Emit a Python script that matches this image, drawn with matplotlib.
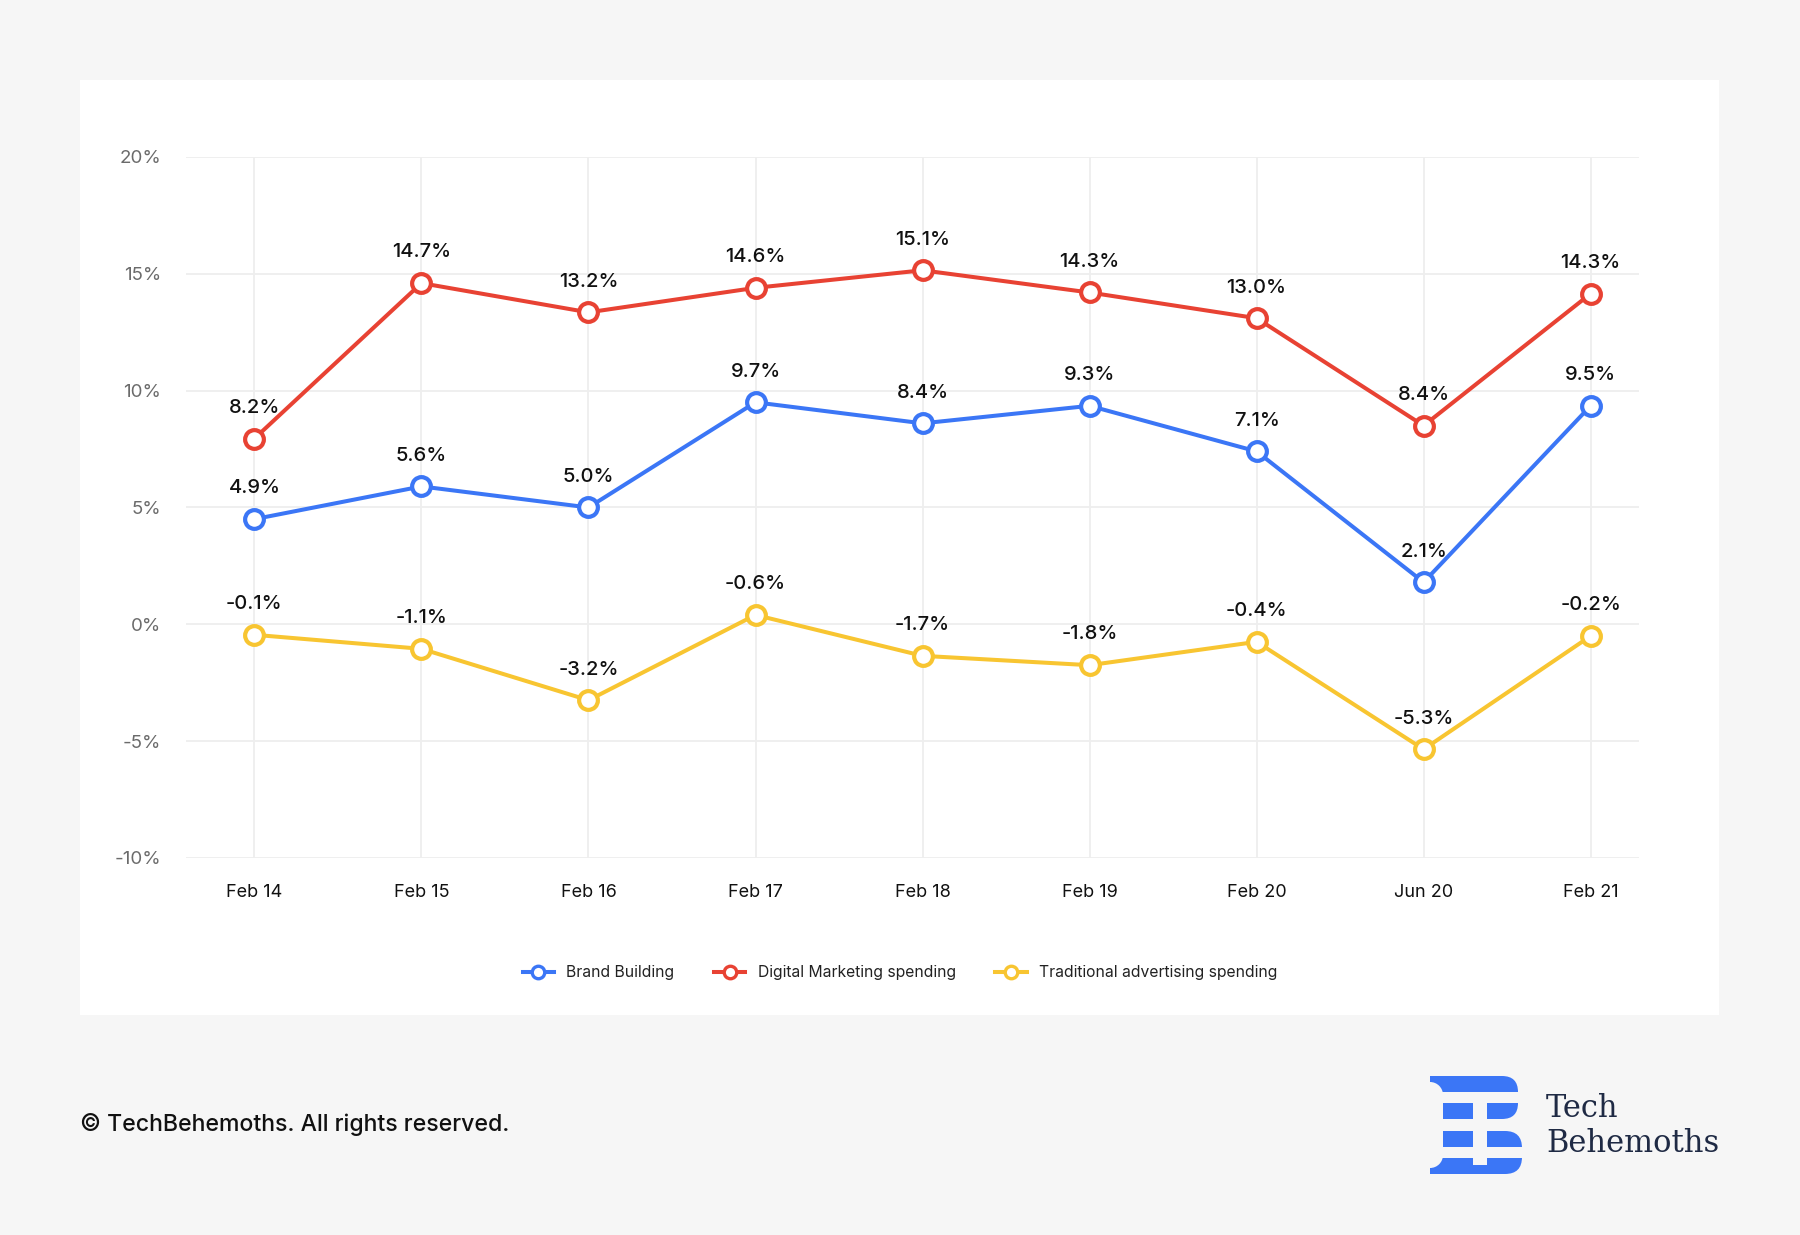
import matplotlib
matplotlib.use("Agg")
import matplotlib.pyplot as plt
from matplotlib.patches import Rectangle, FancyBboxPatch, Circle
from matplotlib.lines import Line2D

plt.rcParams["font.family"] = ["Inter", "DejaVu Sans"]

categories = ["Feb 14", "Feb 15", "Feb 16", "Feb 17", "Feb 18", "Feb 19", "Feb 20", "Jun 20", "Feb 21"]

# plotted positions and the printed labels
brand_values = [4.5, 5.9, 5.0, 9.5, 8.6, 9.35, 7.4, 1.8, 9.35]
brand_labels = ["4.9%", "5.6%", "5.0%", "9.7%", "8.4%", "9.3%", "7.1%", "2.1%", "9.5%"]

digital_values = [7.95, 14.6, 13.35, 14.4, 15.15, 14.2, 13.1, 8.5, 14.15]
digital_labels = ["8.2%", "14.7%", "13.2%", "14.6%", "15.1%", "14.3%", "13.0%", "8.4%", "14.3%"]

traditional_values = [-0.45, -1.05, -3.25, 0.4, -1.35, -1.75, -0.75, -5.35, -0.5]
traditional_labels = ["-0.1%", "-1.1%", "-3.2%", "-0.6%", "-1.7%", "-1.8%", "-0.4%", "-5.3%", "-0.2%"]

series_names = ["Brand Building", "Digital Marketing spending", "Traditional advertising spending"]
yticks = [-10, -5, 0, 5, 10, 15, 20]

BLUE = "#3b76f6"
RED = "#e84233"
YELLOW = "#f8c531"
BG = "#f6f6f6"


def pixel_axes(fig, z):
    a = fig.add_axes([0, 0, 1, 1], zorder=z)
    a.set_xlim(0, 1800)
    a.set_ylim(1235, 0)
    a.axis("off")
    return a


def draw_logo(a):
    # two rounded lobes of the "B", then cut the gaps out with background colour
    a.add_patch(FancyBboxPatch((1430, 1076), 88, 43, boxstyle="round,pad=0,rounding_size=16",
                               facecolor=BLUE, edgecolor="none"))
    a.add_patch(FancyBboxPatch((1430, 1131), 92, 43, boxstyle="round,pad=0,rounding_size=17",
                               facecolor=BLUE, edgecolor="none"))
    a.add_patch(Rectangle((1430, 1076), 30, 43, facecolor=BLUE, edgecolor="none"))
    a.add_patch(Rectangle((1430, 1131), 30, 43, facecolor=BLUE, edgecolor="none"))

    cuts = [
        (1420, 1092, 120, 11),   # gap under top bar
        (1420, 1147, 120, 11),   # gap above bottom bar
        (1420, 1092, 23, 66),    # left indent of middle bars
        (1473, 1092, 14, 73),    # vertical slot + notch
    ]
    for x, y, w, h in cuts:
        a.add_patch(Rectangle((x, y), w, h, facecolor=BG, edgecolor="none"))
    a.add_patch(Circle((1430, 1095), 13, facecolor=BG, edgecolor="none"))
    a.add_patch(Circle((1430, 1155), 13, facecolor=BG, edgecolor="none"))


def draw_footer(fig):
    top = pixel_axes(fig, 5)
    top.text(80, 1125, "© TechBehemoths. All rights reserved.", fontsize=16.6,
             fontweight="medium", color="#111111", va="center", ha="left")
    draw_logo(top)
    top.text(1546, 1117, "Tech", fontsize=22, family="DejaVu Serif",
             color="#1f2a44", va="baseline", ha="left")
    top.text(1546, 1152, "Behemoths", fontsize=22, family="DejaVu Serif",
             color="#1f2a44", va="baseline", ha="left")


def plot_chart():
    fig = plt.figure(figsize=(18, 12.35), dpi=100, facecolor=BG)
    back = pixel_axes(fig, -1)
    back.add_patch(Rectangle((80, 80), 1639, 935, facecolor="white", edgecolor="none"))

    ax = fig.add_axes([0.1033, 0.3053, 0.8073, 0.5676])
    ax.set_facecolor("none")

    x = list(range(len(categories)))
    series = [
        (brand_values, brand_labels, BLUE),
        (digital_values, digital_labels, RED),
        (traditional_values, traditional_labels, YELLOW),
    ]
    for (vals, labels, color), name in zip(series, series_names):
        ax.plot(x, vals, color=color, linewidth=2.9, marker="o", markersize=13.5,
                markerfacecolor="white", markeredgecolor=color, markeredgewidth=3,
                label=name, zorder=3)
        for i, (v, lab) in enumerate(zip(vals, labels)):
            ax.annotate(lab, (i, v), xytext=(0, 18.5), textcoords="offset points",
                        ha="center", va="baseline", fontsize=14.5, color="#111111",
                        fontweight="medium", zorder=4)

    ax.set_xlim(-0.41, 8.29)
    ax.set_ylim(-10, 20)
    ax.set_xticks(x)
    ax.set_xticklabels(categories, fontsize=13, color="#111111")
    ax.set_yticks(yticks)
    ax.set_yticklabels([f"{t}%" for t in yticks], fontsize=13.5, color="#6b6b6b")
    ax.tick_params(axis="both", length=0)
    ax.tick_params(axis="x", pad=19)
    ax.tick_params(axis="y", pad=18)

    ax.grid(True, color="#eeeeee", linewidth=1.3, zorder=0)
    for s in ax.spines.values():
        s.set_visible(False)

    handles = [Line2D([0], [0], color=c, linewidth=2.9, marker="o", markersize=9,
                      markerfacecolor="white", markeredgecolor=c, markeredgewidth=2.4)
               for c in (BLUE, RED, YELLOW)]
    fig.legend(handles, series_names, loc="center", bbox_to_anchor=(0.5, 1 - 973 / 1235),
               ncol=3, frameon=False, fontsize=11.3, handlelength=2.0, columnspacing=2.5,
               handletextpad=0.8, labelcolor="#222222")

    draw_footer(fig)
    fig.savefig("out.png", dpi=100, facecolor=BG)
    plt.close(fig)


def main():
    plot_chart()


if __name__ == "__main__":
    main()
